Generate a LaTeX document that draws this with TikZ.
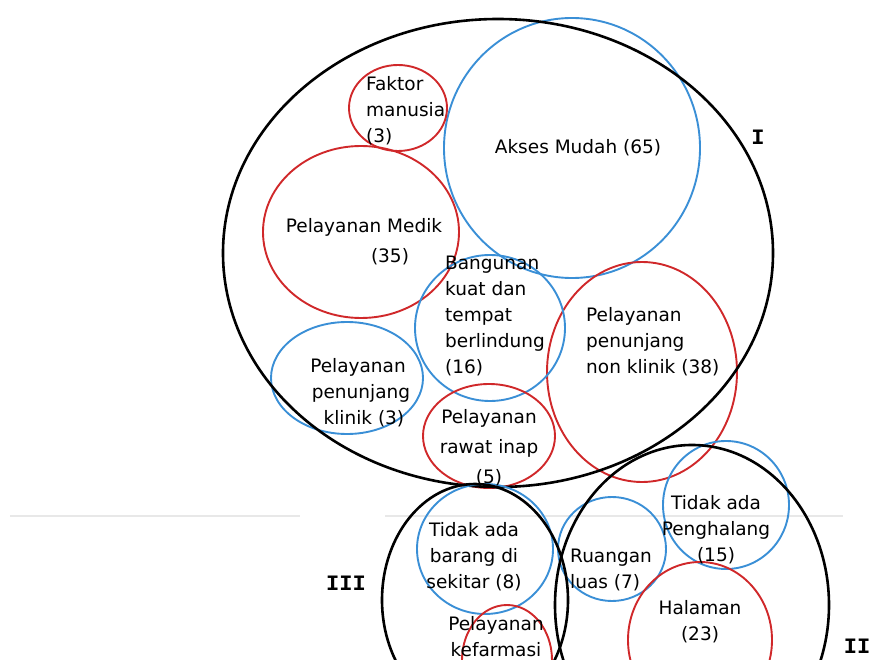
\documentclass[tikz,border=0pt]{standalone}
\usepackage{fontspec}
\setmainfont{DejaVu Sans}
\newfontfamily\romfont{Liberation Mono}
\usetikzlibrary{positioning}
\definecolor{setred}{RGB}{208,40,42}
\definecolor{setblue}{RGB}{58,143,214}
\definecolor{rulegray}{RGB}{232,232,232}

\begin{document}
\begin{tikzpicture}[x=1pt, y=-1pt,
    mainset/.style={draw=black, line width=2.6pt},
    redset/.style={draw=setred, line width=1.9pt},
    blueset/.style={draw=setblue, line width=1.9pt},
    lbl/.style={inner sep=0pt, font=\fontsize{18.5}{26}\selectfont},
    roman/.style={inner sep=0pt, font=\romfont\bfseries\fontsize{22}{22}\selectfont}]
        \useasboundingbox (0,0) rectangle (870,660);
        \clip (0,0) rectangle (870,660);

        % faint page rules
        \coordinate (r1a) at (10,516);
        \coordinate (r1b) at (300,516);
        \coordinate (r2a) at (385,516);
        \coordinate (r2b) at (843,516);
        \draw[rulegray, line width=1.6pt] (r1a) -- (r1b);
        \draw[rulegray, line width=1.6pt] (r2a) -- (r2b);

        % group I
        \draw[blueset] (572,148) ellipse [x radius=128pt, y radius=130pt];
        \draw[redset] (398,108) ellipse [x radius=49pt, y radius=43pt];
        \draw[redset] (361,232) ellipse [x radius=98pt, y radius=86pt];
        \draw[redset] (642,372) ellipse [x radius=95pt, y radius=110pt];
        \draw[blueset] (490,328) ellipse [x radius=75pt, y radius=73pt];
        \draw[blueset] (347,378) ellipse [x radius=76pt, y radius=56pt];
        \draw[redset] (489,436) ellipse [x radius=66pt, y radius=52pt];
        \draw[mainset] (498,253) ellipse [x radius=275pt, y radius=234pt];

        % groups II and III
        \draw[blueset] (485,549) ellipse [x radius=68pt, y radius=65pt];
        \draw[redset] (507,660) ellipse [x radius=45pt, y radius=55pt];
        \draw[blueset] (726,505) ellipse [x radius=63pt, y radius=64pt];
        \draw[blueset] (612,549) ellipse [x radius=54pt, y radius=52pt];
        \draw[redset] (700,640) ellipse [x radius=72pt, y radius=78pt];
        \draw[mainset] (475,600) ellipse [x radius=93pt, y radius=116pt];
        \draw[mainset] (692,605) ellipse [x radius=137pt, y radius=160pt];

        % labels
        \node[lbl, align=left, anchor=west] (faktor) at (366,111) {Faktor\\manusia\\(3)};
        \node[lbl] (akses) at (578,148) {Akses Mudah (65)};
        \node[lbl] (medik) at (364,227) {Pelayanan Medik};
        \node[lbl] (medikn) at (390,257) {(35)};
        \node[lbl, align=left, anchor=west] (bangunan) at (445,316) {Bangunan\\kuat dan\\tempat\\berlindung\\(16)};
        \node[lbl, align=left, anchor=west] (nonklinik) at (586,342) {Pelayanan\\penunjang\\non klinik (38)};
        \node[lbl, align=center] (klinik) at (358,393) {Pelayanan\\\ penunjang\\\ \ klinik (3)};
        \node[lbl, align=center, font=\fontsize{18.5}{30}\selectfont] (rawat) at (489,448) {Pelayanan\\rawat inap\\(5)};
        \node[lbl, align=center] (barang) at (474,557) {Tidak ada\\barang di\\sekitar (8)};
        \node[lbl, align=left, anchor=west] (ruangan) at (570,570) {Ruangan\\luas (7)};
        \node[lbl, align=center] (penghalang) at (716,530) {Tidak ada\\Penghalang\\(15)};
        \node[lbl, align=center] (halaman) at (700,622) {Halaman\\(23)};
        \node[lbl, align=center] (kefarmasi) at (496,637) {Pelayanan\\kefarmasi};

        \node[roman] (grpI) at (758,137) {I};
        \node[roman] (grpII) at (857,646) {II};
        \node[roman] (grpIII) at (346,583) {III};
\end{tikzpicture}
\end{document}
